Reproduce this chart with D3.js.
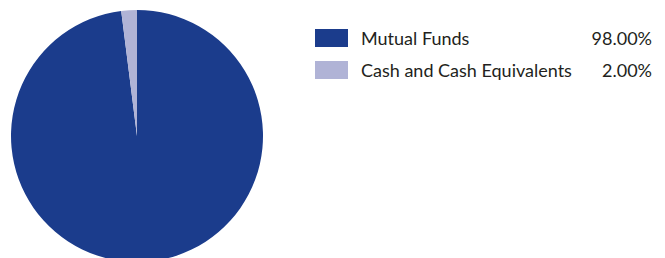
<!DOCTYPE html>
<html>
<head>
<meta charset="utf-8">
<script src="https://cdn.jsdelivr.net/npm/d3@7"></script>
<style>
  body { margin: 0; background: #fff; }
  text { font-family: Lato, "Open Sans", sans-serif; fill: #231f20; }
</style>
</head>
<body>
<div id="canvas"></div>
<script>
// Data
var categories = ['Mutual Funds', 'Cash and Cash Equivalents'];
var values = [98.00, 2.00];
var colors = ['#1b3c8c', '#b0b3d6'];

var W = 665, H = 258;

var svg = d3.select('#canvas').append('svg')
    .attr('width', W).attr('height', H);

// Pie
var cx = 137, cy = 136, r = 126;
var pie = d3.pie().sort(null).value(function(d){ return d; });
var arc = d3.arc().innerRadius(0).outerRadius(r);

var g = svg.append('g').attr('transform', 'translate(' + cx + ',' + cy + ')');
g.selectAll('.slice')
    .data(pie(values))
    .enter().append('path').attr('class', 'slice')
    .attr('d', arc)
    .attr('fill', function(d, i){ return colors[i]; });

// Legend
var legend = svg.append('g').attr('transform', 'translate(315,29)');
var row = legend.selectAll('.row')
    .data(categories)
    .enter().append('g').attr('class', 'row')
    .attr('transform', function(d, i){ return 'translate(0,' + (i * 32) + ')'; });

row.append('rect')
    .attr('width', 33).attr('height', 18)
    .attr('fill', function(d, i){ return colors[i]; });

row.append('text')
    .attr('x', 46).attr('y', 16)
    .style('font-size', '18px')
    .text(function(d){ return d; });

row.append('text')
    .attr('x', 337).attr('y', 16)
    .attr('text-anchor', 'end')
    .style('font-size', '18px')
    .text(function(d, i){ return values[i].toFixed(2) + '%'; });
</script>
</body>
</html>
